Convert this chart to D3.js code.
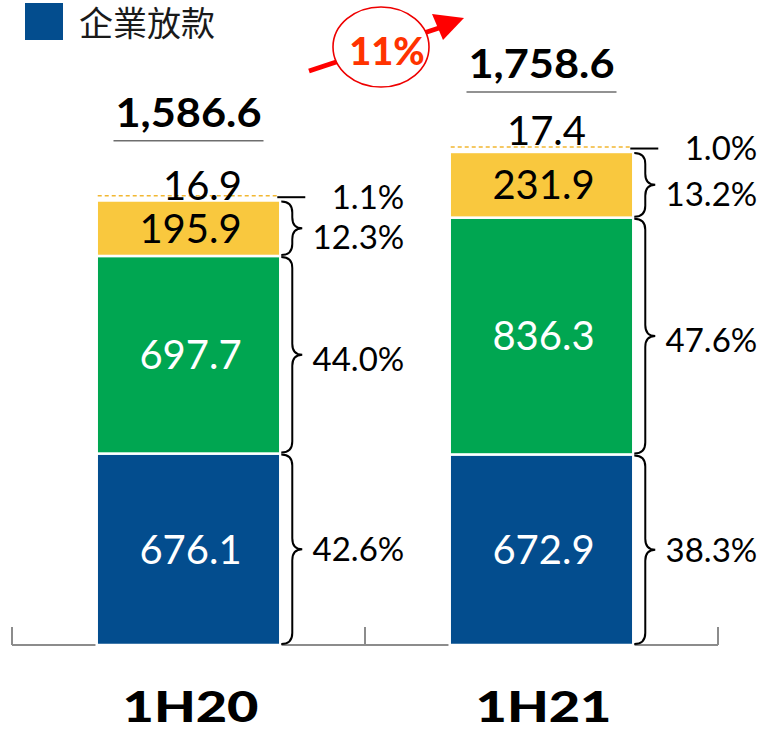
<!DOCTYPE html>
<html><head><meta charset="utf-8">
<script src="https://cdn.jsdelivr.net/npm/d3@7/dist/d3.min.js"></script>
<style>
html,body{margin:0;padding:0;background:#fff;}
svg{display:block;}
text{font-family:Lato,"Noto Sans",sans-serif;}
</style></head>
<body>
<svg id="chart" width="765" height="731"></svg>
<script>
// ---- data ----
const categories = ["1H20", "1H21"];
const legendLabel = "企業放款";
const corporateLoans = [676.1, 672.9];
const series2 = [697.7, 836.3];
const series3 = [195.9, 231.9];
const series4 = [16.9, 17.4];
const totals = [1586.6, 1758.6];
const totalLabels = ["1,586.6", "1,758.6"];
const share1 = [42.6, 38.3];
const share2 = [44.0, 47.6];
const share3 = [12.3, 13.2];
const share4 = [1.1, 1.0];
const growthLabel = "11%";

// ---- layout / style ----
const colors = ["#034d8e", "#00a651", "#f9c83e", "#f2b731"];
const labelColors = ["#ffffff", "#ffffff", "#000000", "#000000"];
const svg = d3.select("#chart");
const baseY = 645;
const x = d3.scaleBand().domain(categories).range([12, 718]).paddingInner(0.48).paddingOuter(0.24);
const y = d3.scaleLinear().domain([0, 1758.6]).range([baseY, 147]);

const seriesVals = [corporateLoans, series2, series3, series4];
const shareVals = [share1, share2, share3, share4];
const stackData = categories.map((c, i) => {
  const o = {cat: c};
  seriesVals.forEach((s, k) => o["s" + k] = s[i]);
  return o;
});
const keys = ["s0", "s1", "s2", "s3"];
const stacked = d3.stack().keys(keys)(stackData);

// axis
const ax = svg.append("g");
const [r0, r1] = x.range();
const mid = x(categories[1]) - x.step() * x.paddingInner() / 2;
ax.append("line").attr("x1", r0).attr("x2", r1).attr("y1", baseY).attr("y2", baseY)
  .attr("stroke", "#8c8c8c").attr("stroke-width", 2);
[r0, mid, r1].forEach(t => ax.append("line").attr("x1", t).attr("x2", t)
  .attr("y1", baseY).attr("y2", baseY - 18).attr("stroke", "#8c8c8c").attr("stroke-width", 2));

// bars (first three series)
stacked.forEach((layer, k) => {
  if (k === 3) return;
  svg.append("g").selectAll("rect").data(layer).join("rect")
    .attr("x", d => x(d.data.cat))
    .attr("width", x.bandwidth())
    .attr("y", d => y(d[1]))
    .attr("height", d => y(d[0]) - y(d[1]))
    .attr("fill", colors[k])
    .attr("stroke", "#fff").attr("stroke-width", 2.5);
});
// tiny top series: dashed outline on top
svg.append("g").selectAll("line").data(stacked[3]).join("line")
  .attr("x1", d => x(d.data.cat) + 1).attr("x2", d => x(d.data.cat) + x.bandwidth() - 1)
  .attr("y1", d => y(d[1])).attr("y2", d => y(d[1]))
  .attr("stroke", colors[3]).attr("stroke-width", 1.6).attr("stroke-dasharray", "4,3");

// value labels inside bars
stacked.forEach((layer, k) => {
  if (k === 3) return;
  svg.append("g").selectAll("text").data(layer).join("text")
    .attr("x", d => x(d.data.cat) + x.bandwidth() / 2 + 2)
    .attr("y", d => (y(d[0]) + y(d[1])) / 2)
    .attr("dy", "0.36em")
    .attr("text-anchor", "middle")
    .attr("font-size", 40)
    .attr("fill", labelColors[k])
    .text(d => d3.format(".1f")(d[1] - d[0]));
});
// small top series labels
const smallDx = [14, 5], smallDy = [4, -2];
svg.append("g").selectAll("text").data(stacked[3]).join("text")
  .attr("x", (d, i) => x(d.data.cat) + x.bandwidth() / 2 + smallDx[i])
  .attr("y", (d, i) => y(d[1]) + smallDy[i])
  .attr("text-anchor", "middle").attr("font-size", 40).attr("fill", "#000")
  .text((d, i) => d3.format(".1f")(series4[i]));

// totals with underline
categories.forEach((c, i) => {
  const cx = x(c) + x.bandwidth() / 2;
  const top = y(stacked[3][i][1]);
  svg.append("text").attr("x", cx).attr("y", top - 69)
    .attr("text-anchor", "middle").attr("font-size", 41).attr("font-weight", 700)
    .attr("textLength", 146).attr("lengthAdjust", "spacingAndGlyphs")
    .attr("fill", "#000").text(totalLabels[i]);
  svg.append("line").attr("x1", cx - 75).attr("x2", cx + 75)
    .attr("y1", top - 55).attr("y2", top - 55)
    .attr("stroke", "#6e6e6e").attr("stroke-width", 1.6);
});

// braces and share labels
function bracePath(x0, yTop, yBot) {
  const xm = x0 + 11, xt = x0 + 21;
  const h = yBot - yTop;
  const r = Math.min(11, h / 4);
  const ym = (yTop + yBot) / 2;
  return `M${x0},${yTop} Q${xm},${yTop} ${xm},${yTop + r} L${xm},${ym - r} Q${xm},${ym} ${xt},${ym}` +
         ` Q${xm},${ym} ${xm},${ym + r} L${xm},${yBot - r} Q${xm},${yBot} ${x0},${yBot}`;
}
const pctDy = [0, 4, 9, 1];
categories.forEach((c, i) => {
  const right = x(c) + x.bandwidth();
  stacked.forEach((layer, k) => {
    const d = layer[i];
    const yT = y(d[1]), yB = y(d[0]);
    let ty;
    if (k === 3) {
      svg.append("line").attr("x1", right - 3).attr("x2", right + 25)
        .attr("y1", yT + 1.5).attr("y2", yT + 1.5).attr("stroke", "#000").attr("stroke-width", 2);
      ty = yT + pctDy[k];
    } else {
      svg.append("path").attr("d", bracePath(right + 1, yT + 1, yB - 1))
        .attr("fill", "none").attr("stroke", "#000").attr("stroke-width", 2);
      ty = (yT + yB) / 2 + pctDy[k];
    }
    svg.append("text").attr("x", right + 124).attr("y", ty).attr("dy", "0.36em")
      .attr("text-anchor", "end").attr("font-size", 33).attr("fill", "#000")
      .text(d3.format(".1f")(shareVals[k][i]) + "%");
  });
});

// category labels
svg.append("g").selectAll("text").data(categories).join("text")
  .attr("x", d => x(d) + x.bandwidth() / 2 + 2)
  .attr("y", 722)
  .attr("text-anchor", "middle").attr("font-size", 42).attr("font-weight", 900)
  .attr("textLength", 136).attr("lengthAdjust", "spacingAndGlyphs")
  .attr("fill", "#000").text(d => d);

// legend
svg.append("rect").attr("x", 25).attr("y", 3).attr("width", 38).attr("height", 37).attr("fill", colors[0]);
svg.append("text").attr("x", 79).attr("y", 36).attr("font-size", 34)
  .style("font-family", '"Noto Sans CJK TC","Noto Sans CJK SC",sans-serif')
  .attr("fill", "#1a1a1a").text(legendLabel);

// growth arrow annotation
const ann = svg.append("g");
ann.append("line").attr("x1", 309).attr("y1", 71).attr("x2", 442).attr("y2", 27)
  .attr("stroke", "#ff0000").attr("stroke-width", 5);
ann.append("path").attr("d", "M464,18 L432,14 L443,40 Z").attr("fill", "#ff0000");
ann.append("ellipse").attr("cx", 381).attr("cy", 47).attr("rx", 48).attr("ry", 40)
  .attr("fill", "#fff").attr("stroke", "#ee0000").attr("stroke-width", 1.6);
ann.append("text").attr("x", 387).attr("y", 65).attr("text-anchor", "middle")
  .attr("font-size", 38).attr("font-weight", 900).attr("fill", "#ff3300").text(growthLabel);
</script>
</body></html>
